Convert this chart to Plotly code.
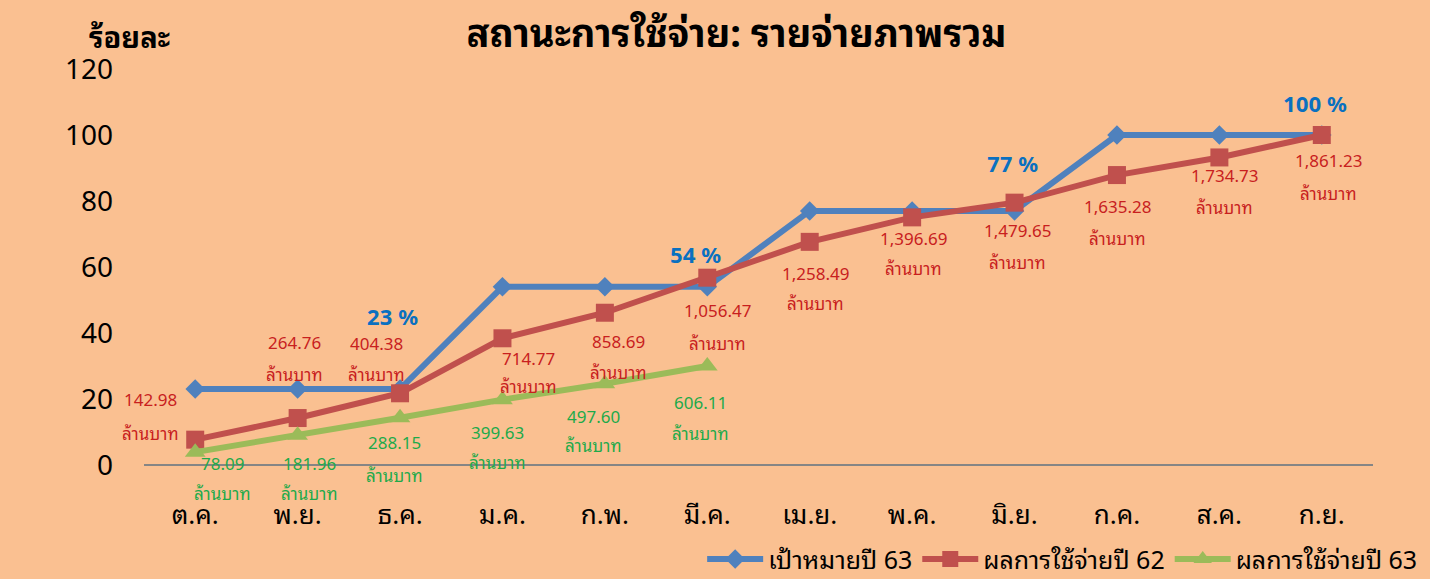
import plotly.graph_objects as go

months = ["ต.ค.", "พ.ย.", "ธ.ค.", "ม.ค.", "ก.พ.", "มี.ค.", "เม.ย.", "พ.ค.", "มิ.ย.", "ก.ค.", "ส.ค.", "ก.ย."]
target63 = [23, 23, 23, 54, 54, 54, 77, 77, 77, 100, 100, 100]
result62 = [7.68, 14.23, 21.73, 38.4, 46.14, 56.76, 67.62, 75.04, 79.5, 87.86, 93.2, 100]
result63 = [3.9, 9.0, 14.3, 19.8, 24.6, 30.0]
amount62 = ["142.98", "264.76", "404.38", "714.77", "858.69", "1,056.47", "1,258.49",
            "1,396.69", "1,479.65", "1,635.28", "1,734.73", "1,861.23"]
amount63 = ["78.09", "181.96", "288.15", "399.63", "497.60", "606.11"]
target_labels = {2: "23 %", 5: "54 %", 8: "77 %", 11: "100 %"}

BLUE, RED, GREEN = "#4F81BD", "#C0504D", "#9BBB59"
RED_TXT, GREEN_TXT, BLUE_TXT = "#C8201E", "#1EAA4A", "#0A70C0"
BG = "#FAC091"
FONT = "'Noto Sans Thai Looped', Tahoma, 'Noto Sans Thai', 'Noto Sans', 'DejaVu Sans', sans-serif"

fig = go.Figure()
fig.add_trace(go.Scatter(x=months, y=target63, name="เป้าหมายปี 63", mode="lines+markers",
                         line=dict(color=BLUE, width=6),
                         marker=dict(symbol="diamond", size=15, color=BLUE)))
fig.add_trace(go.Scatter(x=months, y=result62, name="ผลการใช้จ่ายปี 62", mode="lines+markers",
                         line=dict(color=RED, width=6),
                         marker=dict(symbol="square", size=18, color=RED)))
fig.add_trace(go.Scatter(x=months[:len(result63)], y=result63, name="ผลการใช้จ่ายปี 63",
                         mode="lines+markers", line=dict(color=GREEN, width=6),
                         marker=dict(symbol="triangle-up", size=18, color=GREEN)))

# label offsets in pixels (dx, dy_number, dy_unit) relative to each point
red_off = [(-45, 41, 7), (-3, 77, 45), (-24, 51, 20), (26, -19, -47), (14, -28, -59),
           (10, -32, -65), (6, -31, -61), (1, -20, -50), (3, -27, -59), (1, -30, -62),
           (5, -17, -49), (7, -24, -57)]
green_off = [(27, -10, -40), (12, -27, -57), (-6, -24, -57), (-5, -32, -62),
             (-11, -32, -61), (-7, -35, -66)]
blue_off = {2: (-8, 74), 5: (-12, 34), 8: (-2, 49), 11: (-7, 33)}

ann = []
lbl_font = 17
for i, (m, v, t) in enumerate(zip(months, result62, amount62)):
    dx, dn, du = red_off[i]
    ann.append(dict(x=m, y=v, text=t, xshift=dx, yshift=dn, showarrow=False,
                    font=dict(size=lbl_font, color=RED_TXT, family=FONT)))
    ann.append(dict(x=m, y=v, text="ล้านบาท", xshift=dx, yshift=du, showarrow=False,
                    font=dict(size=lbl_font, color=RED_TXT, family=FONT)))
for i, (m, v, t) in enumerate(zip(months, result63, amount63)):
    dx, dn, du = green_off[i]
    ann.append(dict(x=m, y=v, text=t, xshift=dx, yshift=dn, showarrow=False,
                    font=dict(size=lbl_font, color=GREEN_TXT, family=FONT)))
    ann.append(dict(x=m, y=v, text="ล้านบาท", xshift=dx, yshift=du, showarrow=False,
                    font=dict(size=lbl_font, color=GREEN_TXT, family=FONT)))
for i, t in target_labels.items():
    dx, dy = blue_off[i]
    ann.append(dict(x=months[i], y=target63[i], text="<b>" + t + "</b>", xshift=dx, yshift=dy,
                    showarrow=False, font=dict(size=22, color=BLUE_TXT, family=FONT)))

ann.append(dict(xref="paper", yref="paper", x=-0.012, y=1.085, text="<b>ร้อยละ</b>",
                showarrow=False, xanchor="center", yanchor="middle",
                font=dict(size=29, color="black", family=FONT)))

fig.update_layout(
    width=1430, height=579,
    paper_bgcolor=BG, plot_bgcolor=BG,
    margin=dict(l=144, r=57, t=69, b=114, autoexpand=False),
    title=dict(text="<b>สถานะการใช้จ่าย: รายจ่ายภาพรวม</b>", x=0.515, xref="container",
               xanchor="center", y=0.942, yanchor="middle",
               font=dict(size=38, color="black", family=FONT)),
    showlegend=True,
    legend=dict(orientation="h", x=1.04, xanchor="right", y=-0.238, yanchor="middle",
                bgcolor="rgba(0,0,0,0)", font=dict(size=25, color="black", family=FONT),
                itemwidth=56, tracegroupgap=0),
    annotations=ann,
    font=dict(family=FONT),
)
fig.update_xaxes(type="category", range=[-0.5, len(months) - 0.5], showgrid=False,
                 zeroline=False, showline=False, ticks="", ticklabelstandoff=32,
                 tickfont=dict(size=26, color="black", family=FONT))
fig.update_yaxes(range=[0, 120], dtick=20, showgrid=False, zeroline=True,
                 zerolinecolor="#858585", zerolinewidth=2, showline=False, ticks="",
                 ticklabelstandoff=30, tickfont=dict(size=28, color="black", family=FONT))

fig.write_html("out.html", config={"displayModeBar": False},
               post_script="document.body.style.margin='0';")
